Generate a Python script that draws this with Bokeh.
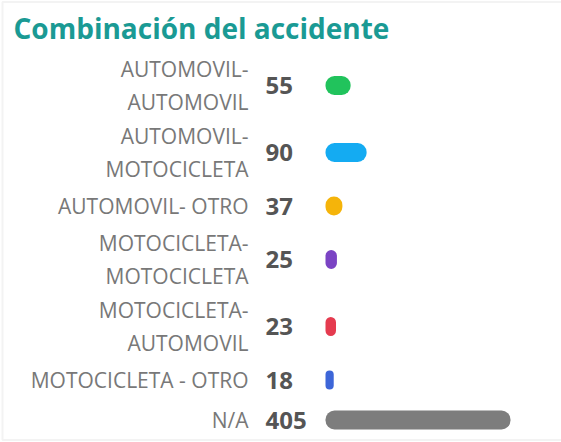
from bokeh.plotting import figure
from bokeh.models import Range1d, Label, BoxAnnotation, ColumnDataSource
from bokeh.core.properties import value
from bokeh.embed import file_html
from bokeh.resources import INLINE

# ---- data ----
title = "Combinación del accidente"
categories = [
    "AUTOMOVIL-\nAUTOMOVIL",
    "AUTOMOVIL-\nMOTOCICLETA",
    "AUTOMOVIL- OTRO",
    "MOTOCICLETA-\nMOTOCICLETA",
    "MOTOCICLETA-\nAUTOMOVIL",
    "MOTOCICLETA - OTRO",
    "N/A",
]
counts = [55, 90, 37, 25, 23, 18, 405]
colors = ["#21c35c", "#14abf2", "#f5b40a", "#7b44c4", "#e53b4f", "#3d66d8", "#7d7d7d"]

# ---- layout ----
W, H = 561, 442
bar_x0 = 325          # pixel where the bars start
bar_max_px = 185      # pixel length of the longest bar
ppu = bar_max_px / max(counts)

# row centres derived from the number of label lines
lines = [c.count("\n") + 1 for c in categories]
row_h = [13 + 27 * n for n in lines]
ys = []
top = 51.5
for h in row_h:
    ys.append(top + h / 2)
    top += h

src = ColumnDataSource(dict(
    y=ys, cat=categories, cnt=counts, txt=[str(c) for c in counts], color=colors,
))

p = figure(
    width=W, height=H,
    x_range=Range1d(-bar_x0 / ppu, (W - bar_x0) / ppu),
    y_range=Range1d(H, 0),
    output_backend="svg", toolbar_location=None,
    x_axis_location=None, y_axis_location=None,
    min_border=0,
)
p.styles = {"position": "absolute", "left": "0px", "top": "0px"}
p.grid.visible = False
p.outline_line_color = None
p.background_fill_color = "white"
p.border_fill_color = "white"

# outer card border
p.add_layout(BoxAnnotation(
    left=2, right=W + 10, left_units="screen", right_units="screen",
    top=1.5, bottom=439.5, fill_color=None, fill_alpha=0,
    line_color="#d8d8d8", line_width=2,
))

# title
p.add_layout(Label(
    x=13, y=27, x_units="screen", y_units="data", text=title,
    text_font="Open Sans", text_font_size="28px", text_font_style="bold",
    text_color="#1a9a94", text_baseline="alphabetic", text_align="left",
))

# bars
p.hbar(y="y", left=0, right="cnt", height=19, source=src,
       fill_color="color", line_color=None, border_radius=9)

# category labels
p.text(x=0, y="y", text="cat", source=src, x_offset=-77,
       text_align="right", text_baseline="middle",
       text_font=value("Open Sans"), text_font_size="21px",
       text_color="#787878", text_line_height=1.2)

# value labels
p.text(x=0, y="y", text="txt", source=src, x_offset=-60,
       text_align="left", text_baseline="middle",
       text_font=value("Open Sans"), text_font_size="24px",
       text_font_style="bold", text_color="#555555")

open("out.html", "w").write(file_html(p, INLINE))
